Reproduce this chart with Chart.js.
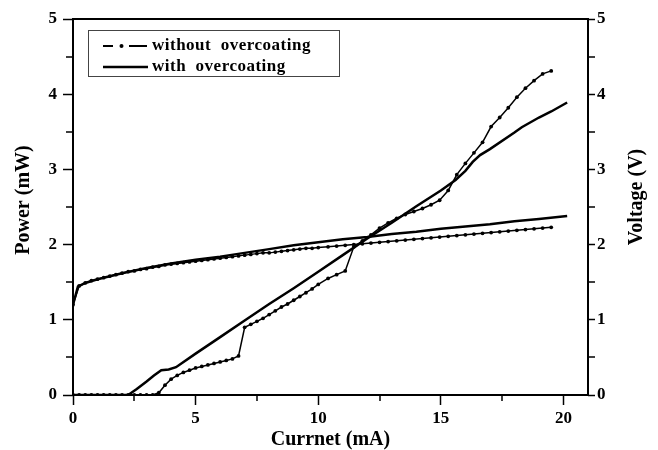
<!DOCTYPE html>
<html>
<head>
<meta charset="utf-8">
<script src="https://cdn.jsdelivr.net/npm/chart.js@4.4.1/dist/chart.umd.min.js"></script>
<style>
  body { margin: 0; background: #fff; }
</style>
</head>
<body>
<canvas id="myChart" width="658" height="450"></canvas>
<script>
// DATOS leidos de la figura
// corriente (mA) de las curvas sin recubrimiento (con marcadores)
const currentWithout = [0, 0.25, 0.5, 0.75, 1, 1.25, 1.5, 1.75, 2, 2.25, 2.5, 2.75, 3, 3.25, 3.5, 3.75, 4, 4.25, 4.5, 4.75,
  5, 5.25, 5.5, 5.75, 6, 6.25, 6.5, 6.75, 7, 7.25, 7.5, 7.75, 8, 8.25, 8.5, 8.75, 9, 9.25, 9.5, 9.75, 10,
  10.4, 10.75, 11.1, 11.45, 11.8, 12.15, 12.5, 12.85, 13.2, 13.55, 13.9, 14.25, 14.6, 14.95, 15.3, 15.65,
  16, 16.35, 16.7, 17.05, 17.4, 17.75, 18.1, 18.45, 18.8, 19.15, 19.5];
const powerWithout = [0, 0, 0, 0, 0, 0, 0, 0, 0, 0, 0, 0, 0, 0, 0.03, 0.13, 0.21, 0.26, 0.30, 0.33,
  0.36, 0.38, 0.40, 0.42, 0.44, 0.46, 0.48, 0.52, 0.90, 0.94, 0.98, 1.02, 1.07, 1.12, 1.17, 1.21, 1.26, 1.31, 1.36, 1.41, 1.47,
  1.55, 1.60, 1.65, 1.97, 2.05, 2.13, 2.22, 2.29, 2.35, 2.40, 2.44, 2.48, 2.53, 2.59, 2.72, 2.93,
  3.08, 3.22, 3.36, 3.57, 3.69, 3.82, 3.96, 4.08, 4.18, 4.27, 4.31];
const voltageWithout = [1.20, 1.45, 1.49, 1.52, 1.54, 1.56, 1.58, 1.60, 1.62, 1.64, 1.65, 1.67, 1.68, 1.70, 1.71, 1.73, 1.74, 1.75, 1.76, 1.77,
  1.78, 1.79, 1.80, 1.81, 1.82, 1.83, 1.84, 1.85, 1.86, 1.87, 1.88, 1.89, 1.89, 1.90, 1.91, 1.92, 1.93, 1.94, 1.95, 1.95, 1.96,
  1.97, 1.98, 1.99, 2.00, 2.01, 2.02, 2.03, 2.04, 2.05, 2.06, 2.07, 2.08, 2.09, 2.10, 2.11, 2.12,
  2.13, 2.14, 2.15, 2.16, 2.17, 2.18, 2.19, 2.20, 2.21, 2.22, 2.23];

// curvas con recubrimiento (linea continua)
const currentWithP = [0, 2.25, 2.6, 3.0, 3.3, 3.6, 3.9, 4.2, 5, 6, 7, 8, 9, 10, 11, 12, 13, 14, 15, 15.6, 16, 16.3, 16.6, 17, 18, 18.3, 19, 19.5, 20.15];
const powerWith = [0, 0, 0.08, 0.18, 0.26, 0.33, 0.34, 0.37, 0.55, 0.77, 0.99, 1.21, 1.42, 1.64, 1.86, 2.08, 2.29, 2.51, 2.72, 2.86, 2.98, 3.1, 3.19, 3.27, 3.49, 3.56, 3.69, 3.77, 3.89];
const currentWithV = [0, 0.2, 0.5, 1, 1.5, 2, 3, 4, 5, 6, 7, 8, 9, 10, 11, 12, 13, 14, 15, 16, 17, 18, 19, 20.15];
const voltageWith = [1.2, 1.44, 1.49, 1.54, 1.58, 1.62, 1.69, 1.75, 1.80, 1.84, 1.89, 1.94, 1.99, 2.03, 2.07, 2.10, 2.14, 2.17, 2.21, 2.24, 2.27, 2.31, 2.34, 2.38];

// ticks
const xTicks = [0, 2.5, 5, 7.5, 10, 12.5, 15, 17.5, 20];
const yTicks = [0, 0.5, 1, 1.5, 2, 2.5, 3, 3.5, 4, 4.5, 5];

const serif = '"Liberation Serif", "Times New Roman", serif';

function toPoints(xs, ys) { // une los arrays en puntos {x,y}
  return xs.map((x, i) => ({x: x, y: ys[i]}));
}

function isMajor(v, step) {
  return Math.abs(v / step - Math.round(v / step)) < 1e-6;
}

// plugin: marco, ticks menores, titulos de ejes Y y leyenda
const extrasPlugin = {
  id: 'extras',
  afterDraw(chart) {
    const {ctx, chartArea: a, scales} = chart;
    ctx.save();
    ctx.strokeStyle = '#000';
    ctx.fillStyle = '#000';

    // ticks menores
    ctx.lineWidth = 1.5;
    ctx.beginPath();
    xTicks.filter(v => !isMajor(v, 5)).forEach(v => {
      const px = Math.round(scales.x.getPixelForValue(v));
      ctx.moveTo(px, a.bottom); ctx.lineTo(px, a.bottom + 6);
    });
    yTicks.filter(v => !isMajor(v, 1)).forEach(v => {
      const py = Math.round(scales.y.getPixelForValue(v));
      ctx.moveTo(a.left, py); ctx.lineTo(a.left - 7, py);
      ctx.moveTo(a.right, py); ctx.lineTo(a.right + 7, py);
    });
    ctx.stroke();

    // marco
    ctx.lineWidth = 2;
    ctx.strokeRect(a.left, a.top, a.right - a.left, a.bottom - a.top);

    // titulos verticales (ambos leen de abajo hacia arriba)
    ctx.font = 'bold 20px ' + serif;
    ctx.textAlign = 'center';
    ctx.textBaseline = 'middle';
    ctx.save();
    ctx.translate(24, 200);
    ctx.rotate(-Math.PI / 2);
    ctx.fillText('Power (mW)', 0, 0);
    ctx.restore();
    ctx.save();
    ctx.translate(637, 197);
    ctx.rotate(-Math.PI / 2);
    ctx.fillText('Voltage (V)', 0, 0);
    ctx.restore();

    // leyenda
    ctx.lineWidth = 1;
    ctx.strokeStyle = '#444';
    ctx.strokeRect(88.5, 30.5, 251, 46);
    ctx.strokeStyle = '#000';
    ctx.lineWidth = 1.8;
    ctx.beginPath();
    ctx.moveTo(103, 46); ctx.lineTo(113, 46);
    ctx.moveTo(129, 46); ctx.lineTo(147, 46);
    ctx.stroke();
    ctx.beginPath();
    ctx.arc(121.5, 46, 2, 0, Math.PI * 2);
    ctx.fill();
    ctx.lineWidth = 2.5;
    ctx.beginPath();
    ctx.moveTo(103, 67); ctx.lineTo(148, 67);
    ctx.stroke();
    ctx.font = 'bold 17px ' + serif;
    ctx.textAlign = 'left';
    if ('letterSpacing' in ctx) ctx.letterSpacing = '0.5px';
    ctx.fillText('without  overcoating', 152, 46);
    ctx.fillText('with  overcoating', 152, 67);
    ctx.restore();
  }
};

const tickFont = {family: serif, size: 17, weight: 'bold'};

function yScale(position, tickLen, pad, width) {
  return {
    type: 'linear',
    position: position,
    min: 0,
    max: 5,
    afterBuildTicks: axis => { axis.ticks = yTicks.map(v => ({value: v})); },
    afterFit: s => { s.width = width; },
    ticks: {
      color: '#000',
      font: tickFont,
      padding: pad,
      callback: v => isMajor(v, 1) ? v : ''
    },
    grid: {
      drawOnChartArea: false,
      tickLength: tickLen,
      tickWidth: 1.5,
      tickColor: c => (c.tick && isMajor(c.tick.value, 1)) ? '#000' : 'rgba(0,0,0,0)'
    },
    border: {display: false},
    title: {display: false}
  };
}

const data = {
  datasets: [
    {
      label: 'power without overcoating',
      data: toPoints(currentWithout, powerWithout),
      yAxisID: 'y',
      borderColor: '#000',
      backgroundColor: '#000',
      borderWidth: 1.5,
      pointRadius: 1.9,
      pointBorderWidth: 0,
      pointBackgroundColor: '#000'
    },
    {
      label: 'voltage without overcoating',
      data: toPoints(currentWithout, voltageWithout),
      yAxisID: 'y2',
      borderColor: '#000',
      backgroundColor: '#000',
      borderWidth: 1.5,
      pointRadius: 1.9,
      pointBorderWidth: 0,
      pointBackgroundColor: '#000'
    },
    {
      label: 'power with overcoating',
      data: toPoints(currentWithP, powerWith),
      yAxisID: 'y',
      borderColor: '#000',
      borderWidth: 2.5,
      pointRadius: 0
    },
    {
      label: 'voltage with overcoating',
      data: toPoints(currentWithV, voltageWith),
      yAxisID: 'y2',
      borderColor: '#000',
      borderWidth: 2.5,
      pointRadius: 0
    }
  ]
};

const config = {
  type: 'line',
  data: data,
  options: {
    responsive: false,
    animation: false,
    devicePixelRatio: 1,
    layout: {padding: {top: 19, left: 0, right: 0, bottom: 0}},
    plugins: {legend: {display: false}, tooltip: {enabled: false}},
    elements: {line: {tension: 0}},
    scales: {
      x: {
        type: 'linear',
        min: 0,
        max: 21,
        afterBuildTicks: axis => { axis.ticks = xTicks.map(v => ({value: v})); },
        afterFit: s => { s.height = 55; },
        ticks: {
          color: '#000',
          font: tickFont,
          padding: 3,
          maxRotation: 0,
          callback: v => isMajor(v, 5) ? v : ''
        },
        grid: {
          drawOnChartArea: false,
          tickLength: 10,
          tickWidth: 1.5,
          tickColor: c => (c.tick && isMajor(c.tick.value, 5)) ? '#000' : 'rgba(0,0,0,0)'
        },
        border: {display: false},
        title: {
          display: true,
          text: 'Currnet (mA)',
          color: '#000',
          font: {family: serif, size: 20, weight: 'bold', lineHeight: 1},
          padding: {top: 0, bottom: 0}
        }
      },
      y: yScale('left', 10, 6, 73),
      y2: yScale('right', 7, 2, 70)
    }
  },
  plugins: [extrasPlugin]
};

const myChart = new Chart(document.getElementById('myChart'), config);
</script>
</body>
</html>
